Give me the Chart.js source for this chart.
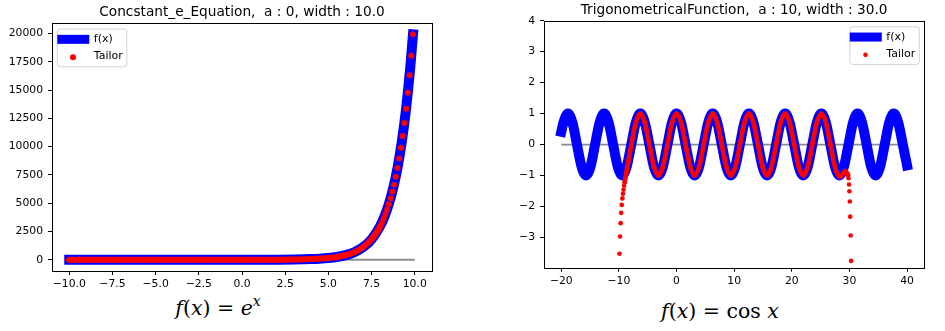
<!DOCTYPE html>
<html>
<head>
<meta charset="utf-8">
<script src="https://cdn.jsdelivr.net/npm/chart.js@4.4.1/dist/chart.umd.min.js"></script>
<style>
  body { margin: 0; background: #fff; width: 945px; height: 331px; overflow: hidden; position: relative; }
  canvas { position: absolute; top: 0; }
  #chartE { left: 0; }
  #chartCos { left: 470px; }
  .formula { position: absolute; transform: translateX(-50%); font-family: "DejaVu Serif", serif; font-size: 20.5px; line-height: 1; color: #000; white-space: nowrap; }
  .formula sup { font-size: 0.68em; vertical-align: 0.62em; }
  #formulaE { left: 218px; top: 295px; }
  #formulaCos { left: 720px; top: 301px; }
</style>
</head>
<body>
<canvas id="chartE" width="470" height="292"></canvas>
<canvas id="chartCos" width="475" height="292"></canvas>
<div class="formula" id="formulaE"><i>f</i>(<i>x</i>) = <i>e</i><sup><i>x</i></sup></div>
<div class="formula" id="formulaCos"><i>f</i>(<i>x</i>) = cos <i>x</i></div>
<script>
// ---- left panel: e^x ----
const eCurveX = [-10, -8, -6, -4, -2, 0, 1, 2, 3, 4, 4.5, 5, 5.5, 6, 6.5, 7, 7.5, 8, 8.25, 8.5, 8.75, 9, 9.25, 9.5, 9.75, 9.9];
const eCurveY = [0, 0, 0, 0, 0, 1, 3, 7, 20, 55, 90, 148, 245, 403, 665, 1097, 1808, 2981, 3827, 4915, 6311, 8103, 10405, 13360, 17154, 19930];
const eTaylorX = [-10, -7.5, -5, -2.5, 0, 2, 3, 4, 5, 5.5, 6, 6.5, 7, 7.5,
  7.6, 7.7, 7.8, 7.9, 8.0, 8.1, 8.2, 8.3, 8.4, 8.5, 8.6, 8.7, 8.8, 8.9, 9.0, 9.1, 9.2, 9.3, 9.4, 9.5, 9.6, 9.7, 9.8, 9.9];
const eTaylorY = [0, 0, 0, 0, 1, 7, 20, 55, 148, 245, 403, 665, 1097, 1808,
  1998, 2208, 2441, 2697, 2981, 3294, 3641, 4024, 4447, 4915, 5432, 6003, 6634, 7332, 8103, 8955, 9897, 10938, 12088, 13360, 14765, 16318, 18034, 19930];
const eZeroX = [-10, 10];
const eTicksX = [-10, -7.5, -5, -2.5, 0, 2.5, 5, 7.5, 10];
const eTicksY = [0, 2500, 5000, 7500, 10000, 12500, 15000, 17500, 20000];

// ---- right panel: cos x ----
const cosCurveX = [-20, -19.63, -18.85, -18.06, -17.28, -16.49, -15.71, -14.92, -14.14, -13.35, -12.57, -11.78, -11.00,
  -10.21, -9.42, -8.64, -7.85, -7.07, -6.28, -5.50, -4.71, -3.93, -3.14, -2.36, -1.57, -0.79, 0, 0.79, 1.57, 2.36,
  3.14, 3.93, 4.71, 5.50, 6.28, 7.07, 7.85, 8.64, 9.42, 10.21, 11.00, 11.78, 12.57, 13.35, 14.14, 14.92, 15.71, 16.49,
  17.28, 18.06, 18.85, 19.63, 20.42, 21.21, 21.99, 22.78, 23.56, 24.35, 25.13, 25.92, 26.70, 27.49, 28.27, 29.06, 29.85,
  30.63, 31.42, 32.20, 32.99, 33.77, 34.56, 35.34, 36.13, 36.91, 37.70, 38.48, 39.27, 40];
const cosCurveY = [0.41, 0.71, 1, 0.71, 0, -0.71, -1, -0.71, 0, 0.71, 1, 0.71, 0,
  -0.71, -1, -0.71, 0, 0.71, 1, 0.71, 0, -0.71, -1, -0.71, 0, 0.71, 1, 0.71, 0, -0.71,
  -1, -0.71, 0, 0.71, 1, 0.71, 0, -0.71, -1, -0.71, 0, 0.71, 1, 0.71, 0, -0.71, -1, -0.71,
  0, 0.71, 1, 0.71, 0, -0.71, -1, -0.71, 0, 0.71, 1, 0.71, 0, -0.71, -1, -0.71, 0,
  0.71, 1, 0.71, 0, -0.71, -1, -0.71, 0, 0.71, 1, 0.71, 0, -0.67];
const cosTaylorX = [-9.9, -9.8, -9.7, -9.6, -9.5, -9.4, -9.3, -9.2, -9.1, -9.0, -8.8, -8.64, -7.85, -7.07,
  -6.28, -5.50, -4.71, -3.93, -3.14, -2.36, -1.57, -0.79, 0, 0.79, 1.57, 2.36, 3.14, 3.93, 4.71, 5.50, 6.28, 7.07,
  7.85, 8.64, 9.42, 10.21, 11.00, 11.78, 12.57, 13.35, 14.14, 14.92, 15.71, 16.49, 17.28, 18.06, 18.85, 19.63, 20.42,
  21.21, 21.99, 22.78, 23.56, 24.35, 25.13, 25.92, 26.70, 27.49, 28.27, 28.6, 29.0, 29.3, 29.6, 29.77,
  29.85, 29.93, 30.0, 30.07, 30.14, 30.22, 30.3];
const cosTaylorY = [-3.53, -2.97, -2.54, -2.21, -1.95, -1.74, -1.59, -1.46, -1.33, -1.22, -1.02, -0.83, -0.02, 0.7,
  1, 0.71, 0, -0.71, -1, -0.71, 0, 0.71, 1, 0.71, 0, -0.71, -1, -0.71, 0, 0.71, 1, 0.71,
  0, -0.71, -1, -0.71, 0, 0.71, 1, 0.71, 0, -0.71, -1, -0.71, 0, 0.71, 1, 0.71, 0,
  -0.71, -1, -0.71, 0, 0.71, 1, 0.71, 0, -0.72, -1.03, -1.02, -0.91, -0.86, -0.92, -0.99,
  -1.09, -1.29, -1.51, -1.84, -2.33, -2.94, -3.76];
const cosZeroX = [-20, 39.3];
const cosTicksX = [-20, -10, 0, 10, 20, 30, 40];
const cosTicksY = [-3, -2, -1, 0, 1, 2, 3, 4];

const pts = (xs, ys) => xs.map((x, i) => ({x: x, y: ys[i]}));
const minus = v => String(v).replace("-", "\u2212");
const tickFont = {family: "DejaVu Sans", size: 10.8};

// matplotlib style box around the axes
const frame = {
    id: "frame",
    afterDatasetsDraw(chart) {
        const a = chart.chartArea;
        const ctx = chart.ctx;
        ctx.save();
        ctx.strokeStyle = "#000";
        ctx.lineWidth = 1;
        ctx.strokeRect(Math.round(a.left) + 0.5, Math.round(a.top) + 0.5,
            Math.round(a.right - a.left), Math.round(a.bottom - a.top));
        ctx.restore();
    }
};

// legend drawn inside the plot, like plt.legend()
const innerLegend = {
    id: "innerLegend",
    afterDatasetsDraw(chart, args, opts) {
        const a = chart.chartArea;
        const ctx = chart.ctx;
        const items = chart.data.datasets.filter(d => d.label);
        ctx.save();
        ctx.font = "11px 'DejaVu Sans'";
        const textW = Math.max(...items.map(d => ctx.measureText(d.label).width));
        const w = 37 + textW + 3.5;
        const h = 37.7;
        const left = opts.side === "right" ? a.right - 5 - w : a.left + 5.3;
        const top = a.top + 6;
        ctx.beginPath();
        if (ctx.roundRect) ctx.roundRect(left, top, w, h, 3); else ctx.rect(left, top, w, h);
        ctx.fillStyle = "rgba(255,255,255,0.8)";
        ctx.fill();
        ctx.strokeStyle = "#d4d4d4";
        ctx.lineWidth = 1;
        ctx.stroke();
        items.forEach((d, i) => {
            const cy = top + 10.3 + i * 17.2;
            if (d.pointRadius) {
                ctx.beginPath();
                ctx.arc(left + 15.7, cy + 0.6, d.pointRadius, 0, Math.PI * 2);
                ctx.fillStyle = d.pointBackgroundColor;
                ctx.fill();
            } else {
                ctx.fillStyle = d.borderColor;
                ctx.fillRect(left, cy - 4.5, 32, 9);
            }
            ctx.fillStyle = "#000";
            ctx.textBaseline = "middle";
            ctx.fillText(d.label, left + 36.5, cy);
        });
        ctx.restore();
    }
};

function buildChart(id, p) {
    return new Chart(document.getElementById(id), {
        type: "scatter",
        data: {
            datasets: [
                {
                    data: pts(p.zeroX, [0, 0]),
                    showLine: true,
                    borderColor: "#8c8c8c",
                    borderWidth: 1.8,
                    pointRadius: 0,
                    order: 3
                },
                {
                    label: "f(x)",
                    data: pts(p.curveX, p.curveY),
                    showLine: true,
                    borderColor: "#0000ff",
                    borderWidth: 10,
                    borderCapStyle: "square",
                    borderJoinStyle: "round",
                    pointRadius: 0,
                    cubicInterpolationMode: "monotone",
                    order: 2
                },
                {
                    label: "Tailor",
                    data: pts(p.taylorX, p.taylorY),
                    showLine: true,
                    borderColor: "#ff0000",
                    borderWidth: p.dotR * 2,
                    borderCapStyle: "round",
                    borderJoinStyle: "round",
                    pointRadius: p.dotR,
                    pointBackgroundColor: "#ff0000",
                    pointBorderWidth: 0,
                    cubicInterpolationMode: "monotone",
                    segment: {
                        // only the dense stretch of markers reads as a band
                        borderColor: c => (c.p0.parsed.x >= p.band[0] && c.p1.parsed.x <= p.band[1]) ? undefined : "rgba(0,0,0,0)"
                    },
                    order: 1
                }
            ]
        },
        options: {
            responsive: false,
            animation: false,
            events: [],
            devicePixelRatio: 1,
            layout: {padding: p.padding},
            plugins: {
                legend: {display: false},
                tooltip: {enabled: false},
                title: {
                    display: true,
                    text: p.title,
                    fullSize: false,
                    color: "#000",
                    font: {family: "DejaVu Sans", size: 13.7, weight: "normal"},
                    padding: p.titlePad
                },
                innerLegend: {side: p.legendSide}
            },
            scales: {
                x: {
                    type: "linear",
                    min: p.xMin,
                    max: p.xMax,
                    afterBuildTicks: s => { s.ticks = p.ticksX.map(v => ({value: v})); },
                    afterFit: s => { s.height = 19; },
                    grid: {display: true, drawOnChartArea: false, drawTicks: true, tickLength: 4, color: "#000", lineWidth: 1},
                    border: {display: false},
                    ticks: {callback: p.fmtX, font: tickFont, color: "#000", padding: 3, maxRotation: 0, autoSkip: false}
                },
                y: {
                    type: "linear",
                    min: p.yMin,
                    max: p.yMax,
                    afterBuildTicks: s => { s.ticks = p.ticksY.map(v => ({value: v})); },
                    afterFit: s => { s.width = 46; },
                    grid: {display: true, drawOnChartArea: false, drawTicks: true, tickLength: 4, color: "#000", lineWidth: 1},
                    border: {display: false},
                    ticks: {callback: v => minus(v), font: tickFont, color: "#000", padding: 5, autoSkip: false}
                }
            }
        },
        plugins: [frame, innerLegend]
    });
}

buildChart("chartE", {
    title: "Concstant_e_Equation,  a : 0, width : 10.0",
    zeroX: eZeroX, curveX: eCurveX, curveY: eCurveY, taylorX: eTaylorX, taylorY: eTaylorY,
    ticksX: eTicksX, ticksY: eTicksY,
    fmtX: v => minus(v.toFixed(1)),
    xMin: -11, xMax: 11, yMin: -997, yMax: 20930,
    dotR: 3, band: [-10.5, 8.05],
    padding: {left: 6, right: 38, top: 0, bottom: 2},
    titlePad: {top: 4, bottom: 2.6},
    legendSide: "left"
});

buildChart("chartCos", {
    title: "TrigonometricalFunction,  a : 10, width : 30.0",
    zeroX: cosZeroX, curveX: cosCurveX, curveY: cosCurveY, taylorX: cosTaylorX, taylorY: cosTaylorY,
    ticksX: cosTicksX, ticksY: cosTicksY,
    fmtX: v => minus(v),
    xMin: -23, xMax: 43, yMin: -3.98, yMax: 4,
    dotR: 2.3, band: [-9.05, 29.8],
    padding: {left: 28, right: 20.7, top: 0, bottom: 5.3},
    titlePad: {top: 2, bottom: 2.3},
    legendSide: "right"
});
</script>
</body>
</html>
